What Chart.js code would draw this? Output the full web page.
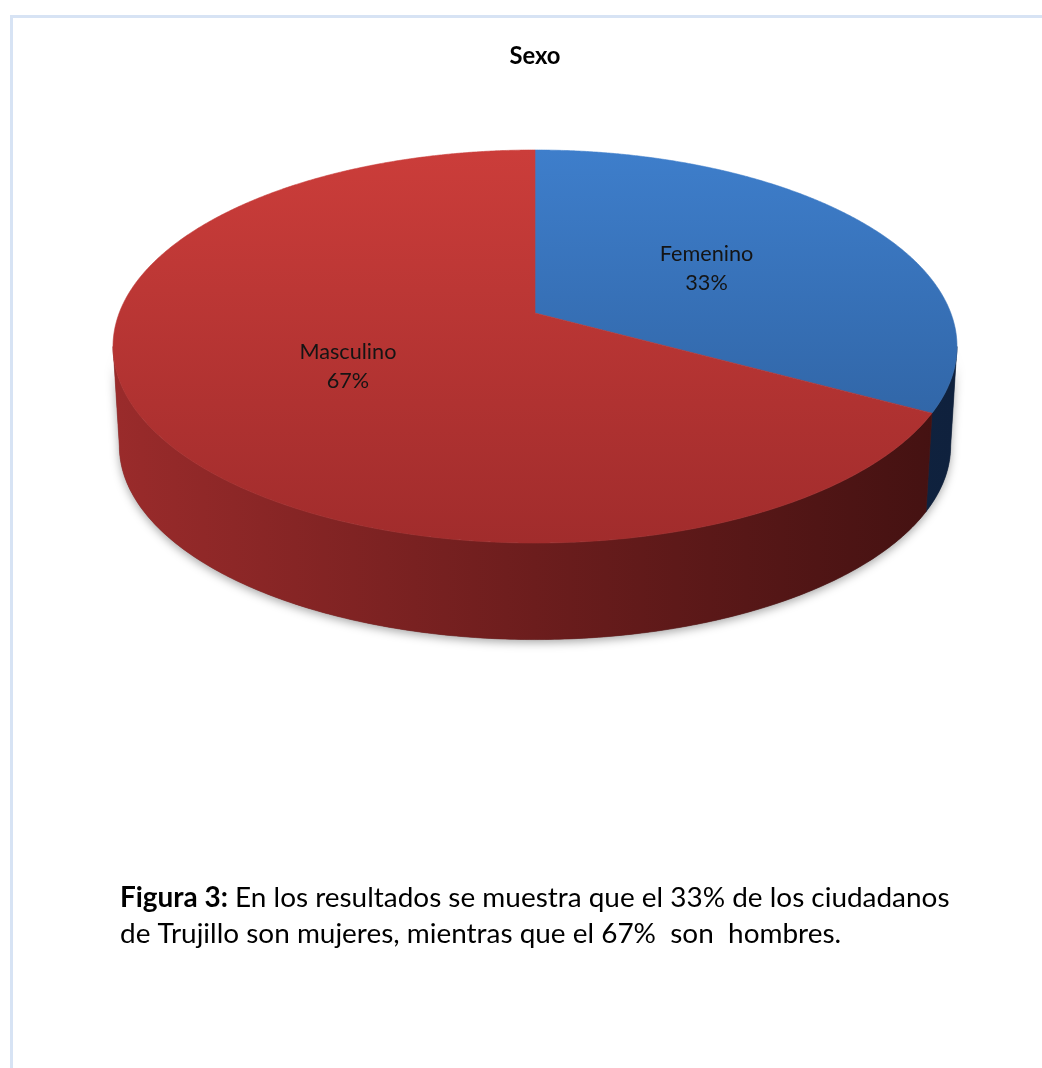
<!DOCTYPE html>
<html lang="es">
<head>
<meta charset="utf-8">
<title>Sexo</title>
<script src="https://cdn.jsdelivr.net/npm/chart.js@4.4.1/dist/chart.umd.min.js"></script>
<style>
  html, body { margin: 0; padding: 0; background: #fff; }
  canvas { display: block; }
</style>
</head>
<body>
<canvas id="grafica" width="1042" height="1068"></canvas>
<script>
// Datos del gráfico
const categorias = ["Femenino", "Masculino"];
const valores = [33, 67];
const porcentajes = ["33%", "67%"];
const tituloGrafico = "Sexo";
const leyendaFigura = ["Figura 3:", " En los resultados se muestra que el 33% de los ciudadanos",
                       "de Trujillo son mujeres, mientras que el 67%  son  hombres."];

// Colores: cara superior (arriba -> abajo) y lateral (izquierda -> derecha)
const coloresArriba = [["#3e7ecb", "#2b5b97"], ["#cb3d3a", "#a12c2c"]];
const coloresLado = [["#16304f", "#0f213d"], ["#9a2b2b", "#6c1d1d", "#421111"]];

const FUENTE = "Lato";

// Perspectiva del pastel 3D (centro proyectado, semiejes y profundidad)
const persp = { cx: 535, cy: 313, a: 415.8, b: 190.8, k: -0.1705, prof: 100, escFondo: 0.985 };

// Pasa un punto del gráfico plano (Chart.js) a la vista en perspectiva
function proyectar(el, px, py, fondo) {
    const u = (px - el.x) / el.outerRadius;
    const v = (py - el.y) / el.outerRadius;
    const w = 1 + persp.k * v;
    const s = fondo ? persp.escFondo : 1;
    return {
        x: persp.cx + s * persp.a * u / w,
        y: persp.cy + (fondo ? persp.prof : 0) + s * persp.b * v / w
    };
}

function puntoBorde(el, ang, fondo) {
    return proyectar(el, el.x + el.outerRadius * Math.cos(ang), el.y + el.outerRadius * Math.sin(ang), fondo);
}

// Tamaño de letra para que un texto ocupe un ancho dado
const medidor = document.createElement("canvas").getContext("2d");
function ajustar(partes, ancho) {
    let total = 0;
    partes.forEach(([texto, peso]) => {
        medidor.font = peso + " 100px " + FUENTE;
        total += medidor.measureText(texto).width;
    });
    return 100 * ancho / total;
}

const tamTitulo = ajustar([[tituloGrafico, "bold"]], 51);
const tamEtiqueta = ajustar([["Masculino", "normal"]], 97);
const tamLeyenda = ajustar([[leyendaFigura[0], "bold"], [leyendaFigura[1], "normal"]], 830);

// Contorno lateral de un arco entre dos ángulos
function trazarLado(ctx, el, a, b) {
    const n = Math.max(2, Math.ceil((b - a) / 0.01));
    for (let i = 0; i <= n; i++) {
        const p = puntoBorde(el, a + (b - a) * i / n, false);
        if (i === 0) ctx.moveTo(p.x, p.y); else ctx.lineTo(p.x, p.y);
    }
    for (let i = n; i >= 0; i--) {
        const p = puntoBorde(el, a + (b - a) * i / n, true);
        ctx.lineTo(p.x, p.y);
    }
    ctx.closePath();
}

const pastel3D = {
    id: "pastel3D",
    beforeDatasetDraw(chart, args) {
        const ctx = chart.ctx;
        const arcos = args.meta.data;
        const lim1 = Math.asin(-persp.k), lim2 = Math.PI - lim1;
        const izq = persp.cx - persp.a * 1.015, der = persp.cx + persp.a * 1.015;

        // sombra bajo el lateral
        ctx.save();
        ctx.beginPath();
        trazarLado(ctx, arcos[0], lim1, lim2);
        ctx.shadowColor = "rgba(0,0,0,0.35)";
        ctx.shadowBlur = 10;
        ctx.shadowOffsetY = 3;
        ctx.fillStyle = "#555";
        ctx.fill();
        ctx.restore();

        // laterales
        arcos.forEach((el, i) => {
            for (const d of [0, 2 * Math.PI, -2 * Math.PI]) {
                const a = Math.max(el.startAngle + d, lim1);
                const b = Math.min(el.endAngle + d, lim2);
                if (b <= a) continue;
                const grad = ctx.createLinearGradient(izq, 0, der, 0);
                const cols = coloresLado[i];
                cols.forEach((c, j) => grad.addColorStop(j / (cols.length - 1), c));
                ctx.beginPath();
                trazarLado(ctx, el, a, b);
                ctx.fillStyle = grad;
                ctx.fill();
                ctx.strokeStyle = grad;
                ctx.lineWidth = 0.6;
                ctx.stroke();
            }
        });

        // caras superiores
        arcos.forEach((el, i) => {
            const grad = ctx.createLinearGradient(0, persp.cy - 163, 0, persp.cy + 230);
            grad.addColorStop(0, coloresArriba[i][0]);
            grad.addColorStop(1, coloresArriba[i][1]);
            const c = proyectar(el, el.x, el.y, false);
            const n = Math.ceil((el.endAngle - el.startAngle) / 0.005);
            ctx.beginPath();
            ctx.moveTo(c.x, c.y);
            for (let j = 0; j <= n; j++) {
                const p = puntoBorde(el, el.startAngle + (el.endAngle - el.startAngle) * j / n, false);
                ctx.lineTo(p.x, p.y);
            }
            ctx.closePath();
            ctx.fillStyle = grad;
            ctx.fill();
            ctx.strokeStyle = grad;
            ctx.lineWidth = 0.6;
            ctx.stroke();
        });

        // etiquetas de datos
        ctx.save();
        ctx.fillStyle = "#141414";
        ctx.textAlign = "center";
        ctx.textBaseline = "alphabetic";
        ctx.font = tamEtiqueta + "px " + FUENTE;
        arcos.forEach((el, i) => {
            const pos = el.tooltipPosition();
            const p = proyectar(el, pos.x, pos.y, false);
            ctx.fillText(categorias[i], p.x, p.y - 5);
            ctx.fillText(porcentajes[i], p.x, p.y + 24);
        });
        ctx.restore();
        return false;
    }
};

const pieFigura = {
    id: "pieFigura",
    afterDraw(chart) {
        const ctx = chart.ctx;
        ctx.save();
        // marco
        ctx.strokeStyle = "#d7e3f4";
        ctx.lineWidth = 3;
        ctx.beginPath();
        ctx.moveTo(11.5, 1068);
        ctx.lineTo(11.5, 16.5);
        ctx.lineTo(1042, 16.5);
        ctx.stroke();
        // texto de la figura
        ctx.fillStyle = "#000";
        ctx.textAlign = "left";
        ctx.textBaseline = "alphabetic";
        ctx.font = "bold " + tamLeyenda + "px " + FUENTE;
        ctx.fillText(leyendaFigura[0], 120, 907);
        const w0 = ctx.measureText(leyendaFigura[0]).width;
        ctx.font = tamLeyenda + "px " + FUENTE;
        ctx.fillText(leyendaFigura[1], 120 + w0, 907);
        ctx.fillText(leyendaFigura[2], 120, 943);
        ctx.restore();
    }
};

const canvas = document.getElementById("grafica");
const chart = new Chart(canvas.getContext("2d"), {
    type: "pie",
    data: {
        labels: categorias,
        datasets: [{
            data: valores,
            backgroundColor: coloresArriba.map(c => c[0]),
            borderWidth: 0
        }]
    },
    options: {
        responsive: false,
        animation: false,
        devicePixelRatio: 1,
        layout: { padding: { left: 113, right: 85, top: 0, bottom: 60 } },
        plugins: {
            legend: { display: false },
            tooltip: { enabled: false },
            title: {
                display: true,
                text: tituloGrafico,
                color: "#000",
                font: { family: FUENTE, size: tamTitulo, weight: "bold" },
                padding: { top: 42, bottom: 20 }
            }
        }
    },
    plugins: [pastel3D, pieFigura]
});
</script>
</body>
</html>
